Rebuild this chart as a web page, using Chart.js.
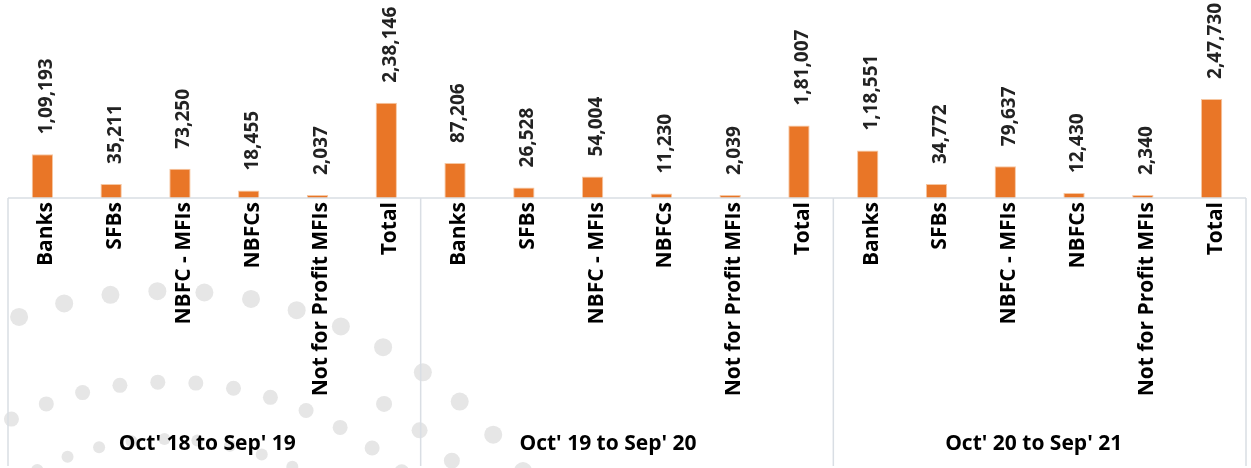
<!DOCTYPE html>
<html>
<head>
<meta charset="utf-8">
<script src="https://cdn.jsdelivr.net/npm/chart.js@4.4.0/dist/chart.umd.min.js"></script>
<style>
  body { margin: 0; background: #fff; }
  #wrap { width: 1251px; height: 468px; position: relative; }
</style>
</head>
<body>
<div id="wrap"><canvas id="myChart"></canvas></div>
<script>
var periods = ["Oct' 18 to Sep' 19", "Oct' 19 to Sep' 20", "Oct' 20 to Sep' 21"];
var lenders = ['Banks', 'SFBs', 'NBFC - MFIs', 'NBFCs', 'Not for Profit MFIs', 'Total'];
var period1 = [109193, 35211, 73250, 18455, 2037, 238146];
var period2 = [87206, 26528, 54004, 11230, 2039, 181007];
var period3 = [118551, 34772, 79637, 12430, 2340, 247730];

var labels = [];
var values = [];
[period1, period2, period3].forEach(function (arr) {
    for (var i = 0; i < arr.length; i++) {
        labels.push(lenders[i]);
        values.push(arr[i]);
    }
});

// indian style grouping: 2,38,146
function fmt(n) {
    var s = String(n);
    if (s.length <= 3) return s;
    var last = s.slice(-3);
    var rest = s.slice(0, -3);
    rest = rest.replace(/\B(?=(\d{2})+(?!\d))/g, ',');
    return rest + ',' + last;
}

var lineColor = '#D9DEE4';

// faint dot pattern in the background (decoration only)
var dotsPlugin = {
    id: 'dots',
    beforeDraw: function (chart) {
        var ctx = chart.ctx;
        var cx = 168, cy = 731;
        var rings = [
            { r: 440, size: 9, step: 0.107, from: -1.916, to: 0 },
            { r: 392, size: 8, step: 0.113, from: -0.987, to: 0 },
            { r: 349, size: 7.5, step: 0.109, from: -2.036, to: 0 },
            { r: 292, size: 6, step: 0.113, from: -2.035, to: 0 }
        ];
        ctx.save();
        ctx.fillStyle = '#E6E6E6';
        rings.forEach(function (ring) {
            for (var a = ring.from; a < ring.to; a += ring.step) {
                var x = cx + ring.r * Math.cos(a);
                var y = cy + ring.r * Math.sin(a);
                if (y > 478) continue;
                ctx.beginPath();
                ctx.arc(x, y, ring.size, 0, Math.PI * 2);
                ctx.fill();
            }
        });
        ctx.restore();
    }
};

var framePlugin = {
    id: 'frame',
    afterDraw: function (chart) {
        var ctx = chart.ctx;
        var xs = chart.scales.x;
        var area = chart.chartArea;
        var step = xs.getPixelForValue(1) - xs.getPixelForValue(0);
        var top = area.bottom;
        var bottom = chart.height - 2;
        ctx.save();
        ctx.strokeStyle = lineColor;
        ctx.lineWidth = 1.5;
        ctx.beginPath();
        ctx.moveTo(area.left, top);
        ctx.lineTo(area.right, top);
        for (var g = 0; g <= periods.length; g++) {
            var x = xs.getPixelForValue(g * lenders.length) - step / 2;
            ctx.moveTo(x, top);
            ctx.lineTo(x, bottom);
        }
        ctx.stroke();

        var shift = [-7, -19, -6];
        ctx.fillStyle = '#000';
        ctx.font = 'bold 21px "Open Sans"';
        ctx.textAlign = 'center';
        ctx.textBaseline = 'middle';
        for (var p = 0; p < periods.length; p++) {
            var a = xs.getPixelForValue(p * lenders.length) - step / 2;
            var b = xs.getPixelForValue((p + 1) * lenders.length) - step / 2;
            ctx.fillText(periods[p], (a + b) / 2 + shift[p], 444);
        }

        // value labels above bars
        var meta = chart.getDatasetMeta(0);
        ctx.fillStyle = '#222';
        ctx.font = 'bold 19px "Open Sans"';
        ctx.textAlign = 'left';
        meta.data.forEach(function (bar, i) {
            ctx.save();
            ctx.translate(bar.x + 4, bar.y - 20);
            ctx.rotate(-Math.PI / 2);
            ctx.fillText(fmt(values[i]), 0, 0);
            ctx.restore();
        });
        ctx.restore();
    }
};

function createChart() {
    var ctx = document.getElementById('myChart').getContext('2d');
    new Chart(ctx, {
        type: 'bar',
        data: {
            labels: labels,
            datasets: [{
                data: values,
                backgroundColor: '#E97627',
                borderColor: '#F6C7A2',
                borderWidth: 1,
                borderSkipped: 'bottom',
                minBarLength: 3,
                barPercentage: 0.31,
                categoryPercentage: 1
            }]
        },
        options: {
            responsive: true,
            maintainAspectRatio: false,
            animation: false,
            layout: { padding: { left: 8, right: 5, top: 0, bottom: 0 } },
            plugins: {
                legend: { display: false },
                tooltip: { enabled: false }
            },
            scales: {
                x: {
                    grid: { display: false, drawTicks: false },
                    border: { display: false },
                    afterFit: function (scale) { scale.height = 270; },
                    ticks: {
                        autoSkip: false,
                        minRotation: 90,
                        maxRotation: 90,
                        padding: 4,
                        labelOffset: 4,
                        color: '#000',
                        font: { family: '"Open Sans"', size: 21, weight: 'bold' }
                    }
                },
                y: {
                    display: false,
                    min: 0,
                    max: 495000
                }
            }
        },
        plugins: [dotsPlugin, framePlugin]
    });
}
createChart();
</script>
</body>
</html>
